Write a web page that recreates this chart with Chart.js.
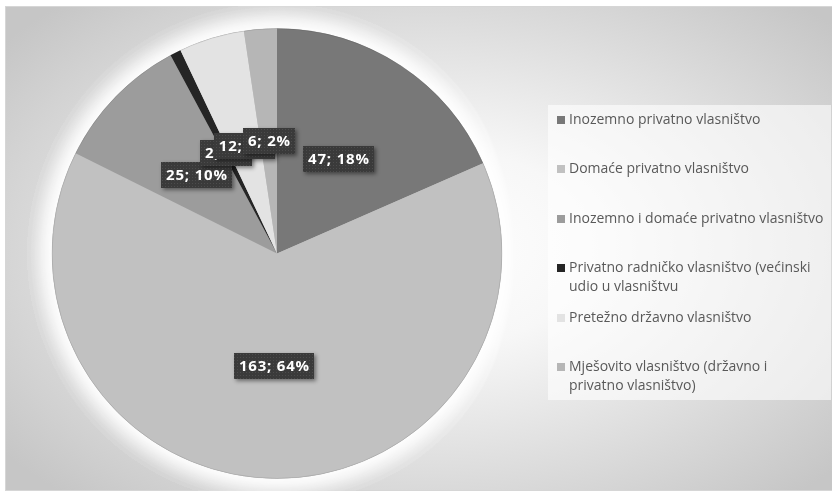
<!DOCTYPE html>
<html>
<head>
<meta charset="utf-8">
<script src="https://cdn.jsdelivr.net/npm/chart.js@4.4.0/dist/chart.umd.min.js"></script>
<style>
  html, body { margin: 0; padding: 0; background: #fff; }
  canvas { display: block; }
</style>
</head>
<body>
<canvas id="ownership" width="832" height="492"></canvas>
<script>
const categories = [
    'Inozemno privatno vlasništvo',
    'Domaće privatno vlasništvo',
    'Inozemno i domaće privatno vlasništvo',
    'Privatno radničko vlasništvo (većinski udio u vlasništvu',
    'Pretežno državno vlasništvo',
    'Mješovito vlasništvo (državno i privatno vlasništvo)'
];
const companies = [47, 163, 25, 2, 12, 6];
const sliceColors = ['#787878', '#c1c1c1', '#9c9c9c', '#252525', '#e3e3e3', '#b6b6b6'];

const total = companies.reduce((a, b) => a + b, 0);
const shares = companies.map(v => Math.round(v / total * 100));

// small dotted texture for the label boxes
function makeDotPattern(ctx) {
    const tile = document.createElement('canvas');
    tile.width = 3;
    tile.height = 3;
    const t = tile.getContext('2d');
    t.fillStyle = '#3a3a3a';
    t.fillRect(0, 0, 3, 3);
    t.fillStyle = '#4c4c4c';
    t.fillRect(0, 0, 1, 1);
    return ctx.createPattern(tile, 'repeat');
}

// frame, radial shading and legend panel
const backdrop = {
    id: 'backdrop',
    beforeDraw(chart) {
        const ctx = chart.ctx;
        const fx = 6, fy = 7, fw = 826, fh = 483;
        ctx.save();
        ctx.fillStyle = '#ffffff';
        ctx.fillRect(0, 0, chart.width, chart.height);

        ctx.save();
        ctx.beginPath();
        ctx.rect(fx, fy, fw, fh);
        ctx.clip();
        ctx.translate(430, 248);
        ctx.scale(1, 0.62);
        const g = ctx.createRadialGradient(0, 0, 0, 0, 0, 540);
        g.addColorStop(0, '#ffffff');
        g.addColorStop(0.3, '#f7f7f7');
        g.addColorStop(1, '#c6c6c6');
        ctx.fillStyle = g;
        ctx.fillRect(-600, -600, 1200, 1200);
        ctx.restore();

        ctx.strokeStyle = '#d6d6d6';
        ctx.lineWidth = 1;
        ctx.strokeRect(fx - 0.5, fy - 0.5, fw + 1, fh + 1);

        ctx.fillStyle = 'rgba(255,255,255,0.6)';
        ctx.fillRect(548, 105, 283, 295);
        ctx.restore();
    },
    beforeDatasetsDraw(chart) {
        // soft white glow around the pie
        const arc = chart.getDatasetMeta(0).data[0];
        const ctx = chart.ctx;
        ctx.save();
        ctx.shadowColor = 'rgba(255,255,255,1)';
        ctx.shadowBlur = 28;
        ctx.fillStyle = '#c1c1c1';
        ctx.beginPath();
        ctx.arc(arc.x, arc.y, arc.outerRadius, 0, Math.PI * 2);
        for (let k = 0; k < 4; k++) ctx.fill();
        ctx.restore();
    }
};

// "value; percent" boxes on each slice
const sliceLabels = {
    id: 'sliceLabels',
    afterDatasetsDraw(chart) {
        const ctx = chart.ctx;
        const meta = chart.getDatasetMeta(0);
        const dots = makeDotPattern(ctx);
        ctx.save();
        ctx.strokeStyle = 'rgba(0,0,0,0.1)';
        ctx.lineWidth = 1;
        ctx.beginPath();
        ctx.arc(meta.data[0].x, meta.data[0].y, meta.data[0].outerRadius, 0, Math.PI * 2);
        ctx.stroke();

        ctx.font = 'bold 15px "Open Sans"';
        ctx.letterSpacing = '0.8px';
        ctx.textAlign = 'center';
        ctx.textBaseline = 'middle';
        meta.data.forEach((arc, i) => {
            const p = arc.getCenterPoint();
            const text = companies[i] + '; ' + shares[i] + '%';
            const w = Math.round(ctx.measureText(text).width + 9);
            const h = 26;
            const bx = Math.round(p.x - w / 2), by = Math.round(p.y - h / 2);
            ctx.save();
            ctx.shadowColor = 'rgba(0,0,0,0.45)';
            ctx.shadowBlur = 4;
            ctx.shadowOffsetX = 2;
            ctx.shadowOffsetY = 2;
            ctx.fillStyle = '#3a3a3a';
            ctx.fillRect(bx, by, w, h);
            ctx.restore();
            ctx.fillStyle = dots;
            ctx.fillRect(bx, by, w, h);
            ctx.fillStyle = '#ffffff';
            ctx.fillText(text, bx + w / 2 + 0.4, by + h / 2 + 1);
        });
        ctx.restore();
    }
};

// legend on the right, wrapped to the panel width
const sideLegend = {
    id: 'sideLegend',
    afterDraw(chart) {
        const ctx = chart.ctx;
        ctx.save();
        ctx.font = '14px "Open Sans"';
        ctx.textBaseline = 'middle';
        ctx.textAlign = 'left';
        const maxWidth = 255;
        categories.forEach((label, i) => {
            const y = 120 + i * 49.4;
            ctx.fillStyle = sliceColors[i];
            ctx.fillRect(557, Math.round(y) - 4, 8, 8);

            const words = label.split(' ');
            const lines = [];
            let line = '';
            words.forEach(word => {
                const next = line ? line + ' ' + word : word;
                if (ctx.measureText(next).width > maxWidth && line) {
                    lines.push(line);
                    line = word;
                } else {
                    line = next;
                }
            });
            lines.push(line);

            ctx.fillStyle = '#595959';
            lines.forEach((l, k) => ctx.fillText(l, 569, y + k * 19));
        });
        ctx.restore();
    }
};

new Chart(document.getElementById('ownership'), {
    type: 'pie',
    data: {
        labels: categories,
        datasets: [{
            data: companies,
            backgroundColor: sliceColors,
            borderWidth: 0
        }]
    },
    options: {
        responsive: false,
        animation: false,
        layout: {
            padding: { left: 52, right: 330, top: 28, bottom: 13 }
        },
        plugins: {
            legend: { display: false },
            tooltip: { enabled: false }
        }
    },
    plugins: [backdrop, sliceLabels, sideLegend]
});
</script>
</body>
</html>
